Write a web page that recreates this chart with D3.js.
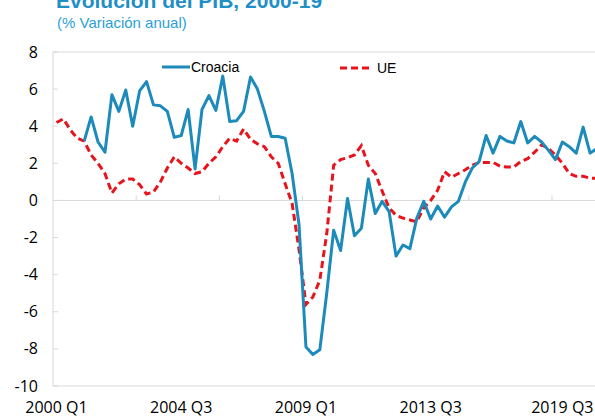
<html>
<head>
<meta charset="utf-8">
<script src="https://d3js.org/d3.v7.min.js"></script>
<style>
  body { margin: 0; background: white; }
  .tick-label { font-family: "Open Sans", sans-serif; font-size: 16px; fill: #000; }
  .legend { font-family: "Liberation Sans", Arial, sans-serif; font-size: 14px; fill: #000; }
</style>
</head>
<body>
<svg id="chart" width="595" height="417"></svg>
<script>
// quarters 2000 Q1 .. 2019 Q3
const years = d3.range(2000, 2020);
const quarters = [];
years.forEach(y => [1, 2, 3, 4].forEach(q => { if (y < 2019 || q <= 3) quarters.push(y + " Q" + q); }));

const croacia = [null, null, null, null,
  3.2, 4.5, 3.15, 2.6, 5.7, 4.8, 5.95, 4.0, 5.9, 6.4, 5.15, 5.1, 4.8, 3.4, 3.5, 4.9,
  1.7, 4.9, 5.65, 4.85, 6.7, 4.25, 4.3, 4.8, 6.65, 6.0, 4.8, 3.45, 3.45, 3.35, 1.45, -1.3,
  -7.9, -8.3, -8.05, -5.0, -1.6, -2.7, 0.1, -1.9, -1.5, 1.15, -0.7, -0.05, -0.6, -3.0, -2.4,
  -2.6, -0.95, -0.05, -1.0, -0.3, -0.9, -0.35, -0.05, 1.0, 1.75, 2.1, 3.5, 2.55, 3.45, 3.2,
  3.1, 4.25, 3.1, 3.45, 3.15, 2.7, 2.2, 3.15, 2.9, 2.55, 3.95, 2.55, 2.8];

const ue = [4.2, 4.4, 3.8, 3.35, 3.2, 2.45, 2.0, 1.45, 0.4, 0.9, 1.15, 1.15, 0.85, 0.35, 0.45, 1.0,
  1.75, 2.35, 2.0, 1.75, 1.45, 1.55, 2.0, 2.35, 2.9, 3.35, 3.2, 3.85, 3.3, 3.05, 2.9, 2.35,
  2.0, 0.9, -0.15, -2.65, -5.6, -5.2, -4.3, -1.8, 1.9, 2.2, 2.3, 2.45, 2.95, 1.9, 1.45, 0.5,
  -0.4, -0.8, -0.95, -1.05, -1.15, -0.4, 0.0, 0.55, 1.55, 1.25, 1.45, 1.65, 1.9, 2.05, 2.05,
  2.05, 1.85, 1.8, 1.8, 2.1, 2.25, 2.6, 3.0, 2.8, 2.45, 2.0, 1.45, 1.3, 1.3, 1.2, 1.2];

const yTicks = [-10, -8, -6, -4, -2, 0, 2, 4, 6, 8];
const xTickEvery = 12;
const xLabels = [
  { q: "2000 Q1", at: "2000 Q1" },
  { q: "2004 Q3", at: "2004 Q3" },
  { q: "2009 Q1", at: "2009 Q1" },
  { q: "2013 Q3", at: "2013 Q3" },
  { q: "2019 Q3", at: "2018 Q2" }
];

const svg = d3.select("#chart");
const plotLeft = 53, plotTop = 52, plotBottom = 386;
const step = 6.93;
const plotRight = plotLeft + quarters.length * step;

const x = d3.scaleBand().domain(quarters).range([plotLeft, plotRight]);
const y = d3.scaleLinear().domain([-10, 8]).range([plotBottom, plotTop]);
const cx = d => x(d) + x.bandwidth() / 2;

// title (cut at the top edge)
svg.append("text").attr("x", 56).attr("y", 8)
  .style("font-family", "Liberation Sans, Arial, sans-serif").style("font-weight", "bold")
  .style("font-size", "21px").style("fill", "#1f8fc6")
  .text("Evolución del PIB, 2000-19");
svg.append("text").attr("x", 57).attr("y", 28)
  .style("font-family", "Liberation Sans, Arial, sans-serif")
  .style("font-size", "15px").style("fill", "#2a9fd6")
  .text("(% Variación anual)");

// plot frame
svg.append("rect").attr("x", plotLeft).attr("y", plotTop)
  .attr("width", plotRight - plotLeft).attr("height", plotBottom - plotTop)
  .attr("fill", "none").attr("stroke", "#d9d9d9").attr("stroke-width", 1);

// y ticks
const yAxis = svg.append("g");
yAxis.selectAll("line").data(yTicks).join("line")
  .attr("x1", plotLeft).attr("x2", plotLeft + 5)
  .attr("y1", d => y(d)).attr("y2", d => y(d))
  .attr("stroke", "#d9d9d9");
yAxis.selectAll("text").data(yTicks).join("text")
  .attr("class", "tick-label")
  .attr("x", 38).attr("y", d => y(d)).attr("dy", "0.35em")
  .attr("text-anchor", "end")
  .text(d => d);

// x axis at zero
svg.append("line").attr("x1", plotLeft).attr("x2", plotRight)
  .attr("y1", y(0)).attr("y2", y(0)).attr("stroke", "#d9d9d9");
const xTicks = quarters.filter((q, i) => i % xTickEvery === 0 && i > 0);
svg.selectAll("line.xt").data(xTicks).join("line").attr("class", "xt")
  .attr("x1", d => x(d)).attr("x2", d => x(d))
  .attr("y1", y(0)).attr("y2", y(0) - 5)
  .attr("stroke", "#d9d9d9");
svg.selectAll("text.xl").data(xLabels).join("text").attr("class", "tick-label xl")
  .attr("x", d => cx(d.at)).attr("y", 413)
  .attr("text-anchor", "middle")
  .text(d => d.q);

// lines
const line = d3.line().defined(d => d[1] !== null)
  .x(d => cx(d[0])).y(d => y(d[1]));

svg.append("path").datum(quarters.map((q, i) => [q, ue[i]]))
  .attr("d", line).attr("fill", "none")
  .attr("stroke", "#e8141c").attr("stroke-width", 3).attr("stroke-dasharray", "7,4");

svg.append("path").datum(quarters.map((q, i) => [q, croacia[i]]))
  .attr("d", line).attr("fill", "none")
  .attr("stroke", "#1c8bbb").attr("stroke-width", 3).attr("stroke-linejoin", "round");

// legend
svg.append("line").attr("x1", 162).attr("x2", 190).attr("y1", 67).attr("y2", 67)
  .attr("stroke", "#1c8bbb").attr("stroke-width", 3);
svg.append("text").attr("class", "legend").attr("x", 191).attr("y", 72).text("Croacia");
svg.append("line").attr("x1", 340).attr("x2", 372).attr("y1", 68).attr("y2", 68)
  .attr("stroke", "#e8141c").attr("stroke-width", 3).attr("stroke-dasharray", "7,4");
svg.append("text").attr("class", "legend").attr("x", 377).attr("y", 73).text("UE");
</script>
</body>
</html>
